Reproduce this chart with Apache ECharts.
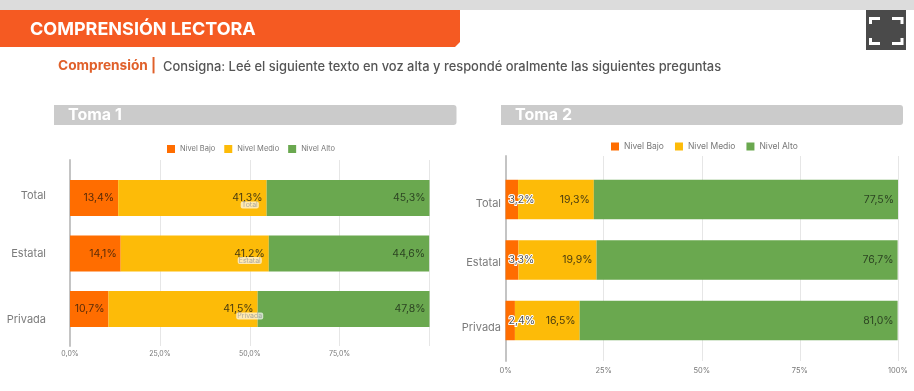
<!DOCTYPE html>
<html><head><meta charset="utf-8">
<style>html,body{margin:0;padding:0;background:#fff}#c{width:914px;height:391px;filter:blur(0.35px)}</style>
<script src="https://cdn.jsdelivr.net/npm/echarts@6/dist/echarts.min.js"></script>
</head><body><div id="c"></div>
<script>
const categories = ['Total', 'Estatal', 'Privada'];
const levels = ['Nivel Bajo', 'Nivel Medio', 'Nivel Alto'];
const toma1Bajo = [13.4, 14.1, 10.7];
const toma1Medio = [41.3, 41.2, 41.5];
const toma1Alto = [45.3, 44.6, 47.8];
const toma2Bajo = [3.2, 3.3, 2.4];
const toma2Medio = [19.3, 19.9, 16.5];
const toma2Alto = [77.5, 76.7, 81.0];
const chipX = [50, 50, 50];
const colors = ['#FF6D00', '#FDBB08', '#6AA84F'];
const labelColors = ['#5a2c08', '#4a3c10', '#2c4422'];
const FONT = 'Inter, "Open Sans", sans-serif';
const comma = v => v.toFixed(1).replace('.', ',') + '%';

function catAxis(grid, margin, shifts) {
  const rich = {};
  shifts.forEach((s, i) => {
    rich['r' + i] = { color: '#7b7b7b', fontSize: 11, fontFamily: FONT, letterSpacing: 0.4,
      padding: s >= 0 ? [s * 2, 0, 0, 0] : [0, 0, -s * 2, 0] };
  });
  return { type: 'category', gridIndex: grid, inverse: true, data: categories,
    axisLine: { show: false }, axisTick: { show: false },
    axisLabel: { margin, formatter: (v, i) => '{r' + i + '|' + v + '}', rich } };
}
function scaffoldY(grid) {
  return { type: 'category', gridIndex: grid, data: categories, axisTick: { show: false }, axisLabel: { show: false },
    axisLine: { show: true, lineStyle: { color: '#c4c4c4', width: 2 } } };
}
function scaffoldX(grid, fmt, fs, margin) {
  return { type: 'value', gridIndex: grid, min: 0, max: 100, interval: 25,
    axisLine: { show: false }, axisTick: { show: false },
    splitLine: { lineStyle: { color: '#e6e6e6', width: 1 } },
    axisLabel: { formatter: fmt, color: '#777', fontSize: fs, fontFamily: FONT, margin } };
}
function dataX(grid) {
  return { type: 'value', gridIndex: grid, min: 0, max: 100, show: false };
}
function bar(i, vals, ax, stack, width, smallOut) {
  const small = smallOut && i === 0;
  return { name: levels[i], type: 'bar', stack, xAxisIndex: ax, yAxisIndex: ax, data: vals, barWidth: width,
    itemStyle: { color: colors[i] },
    label: { show: true, position: small ? 'insideLeft' : 'insideRight', distance: small ? 3 : 4,
      formatter: p => comma(p.value), fontFamily: FONT, fontSize: 10.5,
      color: small ? '#555' : labelColors[i],
      textBorderColor: small ? '#fff' : 'transparent', textBorderWidth: small ? 2 : 0 } };
}
const legendBase = { data: levels, icon: 'rect', itemWidth: 8, itemHeight: 8, selectedMode: false };

const chips = { type: 'scatter', xAxisIndex: 1, yAxisIndex: 1, symbolSize: 0, silent: true,
  data: categories.map((c, i) => [chipX[i], c]),
  label: { show: true, position: 'inside', offset: [0, 7], formatter: p => p.value[1], fontSize: 7, fontFamily: FONT,
    color: '#999', backgroundColor: 'rgba(255,255,255,0.85)', borderRadius: 2, padding: [0, 1] } };

function hdr(x, y, w, h, text) {
  return [
    { type: 'rect', shape: { x, y, width: w, height: h, r: [0, 3, 3, 0] }, style: { fill: '#cbcbcb' } },
    { type: 'text', x: x + 14, y: y + 10, style: { text, fill: '#fff', font: 'bold 16px ' + FONT, verticalAlign: 'middle' } }
  ];
}
const corner = (pts) => ({ type: 'polyline', shape: { points: pts }, style: { stroke: '#fff', lineWidth: 3, fill: null } });

const chart = echarts.init(document.getElementById('c'));
chart.setOption({
  animation: false, backgroundColor: '#fff',
  grid: [
    { left: 70, width: 359.5, top: 160, height: 186 },
    { left: 70, width: 359.5, top: 170.25, height: 166.5 },
    { left: 505.5, width: 392.5, top: 156, height: 205 },
    { left: 505.5, width: 392.5, top: 169.25, height: 181.5 }
  ],
  xAxis: [
    scaffoldX(0, v => v === 100 ? '' : v.toFixed(1).replace('.', ',') + '%', 7, 4),
    dataX(1),
    scaffoldX(2, v => v + '%', 7.5, 6),
    dataX(3)
  ],
  yAxis: [scaffoldY(0), catAxis(1, 24, [-2, 0, 11]), scaffoldY(2), catAxis(3, 4.5, [4.5, 3, 7.5])],
  legend: [
    Object.assign({}, legendBase, { left: 162, top: 140, itemGap: 9, textStyle: { fontSize: 7.5, color: '#777', fontFamily: FONT } }),
    Object.assign({}, legendBase, { left: 606, top: 137, itemGap: 11, textStyle: { fontSize: 8.5, color: '#777', fontFamily: FONT } })
  ],
  series: [
    bar(0, toma1Bajo, 1, 'a', 36, false), bar(1, toma1Medio, 1, 'a', 36, false), bar(2, toma1Alto, 1, 'a', 36, false),
    chips,
    bar(0, toma2Bajo, 3, 'b', 39.5, true), bar(1, toma2Medio, 3, 'b', 39.5, false), bar(2, toma2Alto, 3, 'b', 39.5, false)
  ],
  graphic: [
    { type: 'rect', shape: { x: 0, y: 0, width: 914, height: 10 }, style: { fill: '#dcdcdc' } },
    { type: 'polygon', shape: { points: [[0, 10], [460, 10], [460, 42], [455, 47], [0, 47]] }, style: { fill: '#F55A22' } },
    { type: 'text', x: 30, y: 30, style: { text: 'COMPRENSIÓN LECTORA', fill: '#fff', font: 'bold 18px ' + FONT, verticalAlign: 'middle' } },
    { type: 'text', x: 58, y: 66, style: { text: 'Comprensión |', fill: '#E0602A', font: 'bold 13.7px ' + FONT, verticalAlign: 'middle' } },
    { type: 'text', x: 163, y: 67, style: { text: 'Consigna: Leé el siguiente texto en voz alta y respondé oralmente las siguientes preguntas', fill: '#555', font: '500 12.9px ' + FONT, verticalAlign: 'middle' } },
    ...hdr(54, 105, 402.5, 20, 'Toma 1'),
    ...hdr(501, 105, 402, 20, 'Toma 2'),
    { type: 'rect', shape: { x: 866, y: 10, width: 40, height: 40 }, style: { fill: '#4a4a4a' } },
    corner([[870.5, 24], [870.5, 18.5], [880, 18.5]]), corner([[892, 18.5], [902, 18.5], [902, 24]]),
    corner([[870.5, 38], [870.5, 43.5], [880, 43.5]]), corner([[892, 43.5], [902, 43.5], [902, 38]])
  ]
});
</script></body></html>
